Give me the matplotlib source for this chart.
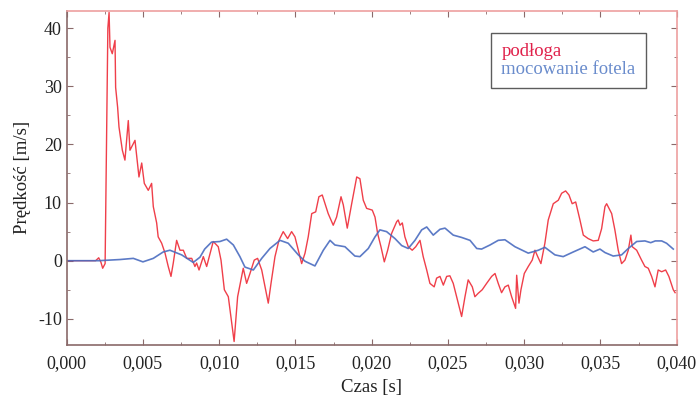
import matplotlib
matplotlib.use("Agg")
import matplotlib.pyplot as plt
from matplotlib.ticker import MultipleLocator, FuncFormatter

plt.rcParams['font.family'] = ['Liberation Serif', 'DejaVu Serif']

# podłoga (floor) velocity
red_t = [0, 0.0019, 0.0021, 0.00225, 0.00236, 0.00252, 0.0027, 0.00278, 0.00284, 0.00299,
         0.00317, 0.00321, 0.00334, 0.00343, 0.00365, 0.00382, 0.00404, 0.00415, 0.00448, 0.00474,
         0.00492, 0.00509, 0.00535, 0.00557, 0.00568, 0.0059, 0.006, 0.00623, 0.00645, 0.00666,
         0.00684, 0.00699, 0.00721, 0.00743, 0.00765, 0.00787, 0.0082, 0.00841, 0.00852, 0.00868,
         0.00896, 0.00918, 0.00946, 0.00961, 0.00994, 0.01012, 0.01034, 0.0106, 0.01082, 0.01098,
         0.01121, 0.01143, 0.01158, 0.0118, 0.01202, 0.0123, 0.01252, 0.01279, 0.01305, 0.01322,
         0.0134, 0.01366, 0.01392, 0.0142, 0.01449, 0.01475, 0.01497, 0.01519, 0.01541, 0.01563,
         0.01584, 0.01607, 0.01633, 0.01654, 0.01676, 0.01694, 0.01715, 0.01748, 0.0177, 0.01799,
         0.01814, 0.0184, 0.01869, 0.01902, 0.01923, 0.01945, 0.01967, 0.02004, 0.02022, 0.02039,
         0.02061, 0.02083, 0.02105, 0.02131, 0.02164, 0.02174, 0.02186, 0.02201, 0.02218, 0.0224,
         0.02266, 0.02289, 0.02317, 0.02338, 0.02361, 0.02382, 0.0241, 0.02426, 0.02448, 0.0247,
         0.02492, 0.02513, 0.02535, 0.02557, 0.0259, 0.02612, 0.02633, 0.0266, 0.02677, 0.02699,
         0.02725, 0.02754, 0.02787, 0.02809, 0.0283, 0.02852, 0.02874, 0.02896, 0.02918, 0.02944,
         0.02951, 0.02966, 0.02979, 0.03001, 0.03027, 0.03053, 0.03071, 0.03089, 0.0311, 0.03136,
         0.03158, 0.03191, 0.03224, 0.03246, 0.03272, 0.03294, 0.03315, 0.03338, 0.03366, 0.03388,
         0.0342, 0.03453, 0.03486, 0.03508, 0.0353, 0.03541, 0.03574, 0.03595, 0.03617, 0.03639,
         0.03661, 0.03683, 0.037, 0.03709, 0.03738, 0.0377, 0.03792, 0.03814, 0.03836, 0.03858,
         0.03879, 0.03902, 0.03928, 0.03949, 0.03978, 0.0399]
red_v = [0, 0, 0.5, -0.3, -1.3, -0.5, 40.0, 42.7, 36.7, 35.6,
         37.9, 29.8, 26.4, 23.0, 19.0, 17.3, 24.1, 19.0, 20.7, 14.4,
         16.8, 13.3, 12.1, 13.3, 9.3, 6.5, 4.1, 3.0, 1.3, -1.0,
         -2.7, -0.4, 3.5, 1.8, 1.8, 0.4, 0.4, -1.0, -0.4, -1.6,
         0.7, -1.0, 1.8, 3.3, 2.4, 0.1, -5.0, -6.2, -10.7, -13.9,
         -6.2, -3.3, -1.3, -3.9, -2.2, 0.1, 0.4, -1.6, -5.0, -7.3,
         -3.9, 0.7, 3.5, 5.0, 3.8, 5.0, 4.1, 1.8, -0.5, 1.3,
         4.1, 8.1, 8.4, 11.0, 11.3, 9.8, 8.1, 6.1, 7.5, 11.0,
         9.6, 5.6, 9.8, 14.4, 14.1, 10.4, 9.0, 8.7, 7.5, 4.7,
         2.4, -0.2, 1.8, 4.7, 6.7, 7.0, 6.1, 6.5, 4.1, 2.4,
         1.8, 2.4, 3.5, 0.7, -1.6, -3.9, -4.5, -3.0, -2.7, -4.2,
         -2.7, -2.6, -3.9, -6.2, -9.6, -6.2, -3.3, -4.5, -6.2, -5.6,
         -5.0, -3.9, -2.7, -2.2, -3.9, -5.5, -4.5, -4.2, -6.2, -8.2,
         -2.5, -7.3, -5.0, -2.2, -1.0, 0.1, 1.8, 0.7, -0.5, 3.0,
         7.0, 9.8, 10.4, 11.6, 12.0, 11.3, 9.8, 10.1, 7.0, 4.4,
         3.8, 3.4, 3.5, 5.5, 9.3, 9.8, 8.1, 5.3, 1.8, -0.5,
         0.1, 1.8, 4.4, 2.4, 1.8, 0.1, -1.0, -1.3, -2.7, -4.5,
         -1.6, -1.9, -1.6, -2.7, -5.0, -5.5]

# mocowanie fotela (seat mounting) velocity
blue_t = [0, 0.0021, 0.0035, 0.00437, 0.005, 0.00568, 0.00633, 0.00677, 0.00754, 0.0083,
          0.00874, 0.00905, 0.0095, 0.01005, 0.01049, 0.01093, 0.01136, 0.01169, 0.01224, 0.01279,
          0.01333, 0.01399, 0.01453, 0.01519, 0.01563, 0.01628, 0.01683, 0.01727, 0.01759, 0.01825,
          0.0189, 0.01923, 0.01978, 0.02022, 0.02054, 0.02098, 0.02153, 0.02197, 0.0224, 0.02284,
          0.02328, 0.02361, 0.02404, 0.02448, 0.02481, 0.02535, 0.0259, 0.02645, 0.02689, 0.02721,
          0.02776, 0.0283, 0.02874, 0.0294, 0.03027, 0.03093, 0.03136, 0.03202, 0.03256, 0.03322,
          0.03399, 0.03453, 0.03497, 0.0353, 0.03584, 0.03639, 0.03683, 0.03738, 0.03792, 0.0383,
          0.0386, 0.03902, 0.03934, 0.03978]
blue_v = [0, 0, 0.2, 0.4, -0.2, 0.4, 1.5, 1.8, 1.0, -0.3,
          0.6, 2.0, 3.2, 3.3, 3.7, 2.7, 0.7, -1.1, -1.6, 0.4,
          2.1, 3.5, 3.0, 1.0, -0.1, -0.9, 1.8, 3.5, 2.7, 2.4,
          0.8, 0.7, 2.1, 4.1, 5.3, 5.0, 3.8, 2.6, 2.1, 3.5,
          5.3, 5.8, 4.4, 5.4, 5.6, 4.4, 4.0, 3.5, 2.1, 2.0,
          2.7, 3.5, 3.6, 2.4, 1.3, 1.8, 2.3, 1.0, 0.7, 1.5,
          2.4, 1.5, 2.0, 1.4, 0.8, 1.0, 2.1, 3.3, 3.4, 3.1,
          3.4, 3.4, 3.0, 2.0]

series_labels = ['podłoga', 'mocowanie fotela']
x_label = 'Czas [s]'
y_label = 'Prędkość [m/s]'

fig = plt.figure(figsize=(6.99, 3.96), dpi=100)
ax = fig.add_axes([0.0954, 0.1288, 0.968 - 0.0954, 0.973 - 0.1288])

l1, = ax.plot(red_t, red_v, color='#ee2a36', lw=1.0, alpha=0.9)
l2, = ax.plot(blue_t, blue_v, color='#4a6cc0', lw=1.2, alpha=0.9)

ax.set_xlim(0, 0.040)
ax.set_ylim(-14.5, 43)
ax.xaxis.set_major_locator(MultipleLocator(0.005))
ax.xaxis.set_minor_locator(MultipleLocator(0.0025))
ax.yaxis.set_major_locator(MultipleLocator(10))
ax.yaxis.set_minor_locator(MultipleLocator(5))
ax.xaxis.set_major_formatter(FuncFormatter(lambda v, p: f"{v:.3f}".replace('.', ',')))
ax.yaxis.set_major_formatter(FuncFormatter(lambda v, p: f"{v:.0f}"))

ax.tick_params(which='both', direction='in', top=True, right=True, labelsize=13,
               colors='#8a6a6a', labelcolor='#222222')
ax.tick_params(which='major', length=4)
ax.tick_params(which='minor', length=2.5)
ax.tick_params(axis='x', pad=7)

for s in ['left', 'bottom']:
    ax.spines[s].set_color('#8a6a6a')
for s in ['top', 'right']:
    ax.spines[s].set_color('#eea0a0')
for s in ax.spines.values():
    s.set_linewidth(1.2)

ax.set_xlabel(x_label, fontsize=13.5, color='#222222', labelpad=5)
ax.set_ylabel(y_label, fontsize=13.5, color='#222222', labelpad=5)

leg = ax.legend([l1, l2], series_labels, loc='upper left',
                handlelength=0, handletextpad=0,
                fontsize=13.5, frameon=True, fancybox=False, borderpad=0.55,
                labelspacing=0.0, borderaxespad=0)
leg.set_bbox_to_anchor(((491 - 66.7) / 610, (345 - 33) / (345 - 10.7)), transform=ax.transAxes)
leg.get_frame().set_edgecolor('#333333')
leg.get_frame().set_linewidth(1.0)
for h in leg.legend_handles:
    h.set_visible(False)
for txt, c in zip(leg.get_texts(), ['#e0204a', '#6a8ccc']):
    txt.set_color(c)

fig.savefig('out.png', dpi=100)
